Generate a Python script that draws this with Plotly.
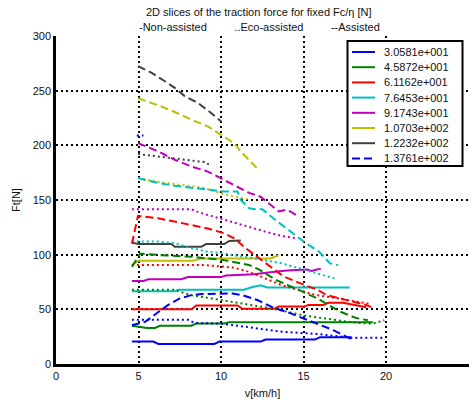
import plotly.graph_objects as go

# Force levels Fc/eta [N] (one colour per level)
force_labels = ["3.0581e+001", "4.5872e+001", "6.1162e+001", "7.6453e+001",
                "9.1743e+001", "1.0703e+002", "1.2232e+002", "1.3761e+002"]
line_colors = ["#0000FF", "#008000", "#FF0000", "#00BFBF",
               "#BF00BF", "#BFBF00", "#404040", "#0000FF"]
legend_dash = ["solid"] * 7 + ["dash"]

# Non-assisted mode: speed v [km/h] and traction force Ft [N]
non_assisted_v = [
    [4.6, 5.9, 6.2, 9.6, 9.9, 12.4, 12.7, 15.7, 16.0, 17.9],
    [4.6, 5.1, 5.5, 6.0, 6.3, 8.2, 8.5, 10.2, 10.5, 19.2],
    [4.6, 8.2, 8.5, 11.0, 11.3, 13.2, 13.5, 15.0, 15.3, 16.2, 16.5, 17.4, 18.8],
    [4.6, 7.2, 7.4, 11.4, 11.8, 12.4, 12.8, 17.8],
    [4.6, 5.3, 5.6, 7.6, 8.0, 10.0, 10.3, 12.0, 13.0, 14.0, 15.2, 15.5, 15.8, 16.05],
    [4.6, 5.0, 8.3, 8.8, 13.0, 13.5],
    [4.6, 5.0, 7.0, 7.2, 8.8, 9.1, 10.2, 10.5, 11.2],
    [],
]
non_assisted_ft = [
    [20.5, 20.5, 18.3, 18.3, 20.5, 20.5, 22.3, 22.3, 24.5, 24.5],
    [35, 34, 33, 33, 35, 35, 37, 37, 38.3, 38.3],
    [50, 50, 53.5, 53.5, 50.5, 50.5, 52.5, 52.5, 54, 54, 56, 56, 52],
    [66.5, 66.5, 68, 68, 70, 72, 70, 70],
    [76, 76, 77.5, 77.5, 79.5, 79.5, 81, 82, 84, 85.5, 86.5, 85, 86.5, 87],
    [90.5, 94.5, 94.5, 96.5, 96.5, 99.5],
    [111, 109.7, 109.7, 107.2, 107.2, 109.7, 109.7, 112.5, 113],
    [],
]

# Eco-assisted mode
eco_v = [
    [4.6, 8.0, 8.4, 10.0, 11.5, 12.7, 13.7, 15.8, 17.9, 19.7, 19.9],
    [4.6, 7.1, 8.2, 10.2, 11.6, 13.2, 15.0, 16.3, 17.5, 18.4, 19.2, 19.9],
    [4.6, 9.0, 9.7, 10.7, 11.7, 12.7, 13.7, 14.75, 15.75, 16.8, 17.8, 18.8, 19.0],
    [4.6, 5.0, 6.2, 7.2, 8.2, 9.2, 10.2, 10.7, 11.7, 12.7, 13.7, 14.75, 15.75, 16.95],
    [4.6, 8.2, 8.7, 9.7, 10.7, 11.7, 12.7, 13.7, 14.55],
    [4.97, 6.0, 7.0, 8.0, 9.0, 9.6, 10.2, 11.0, 11.7],
    [4.97, 6.2, 7.2, 8.2, 9.0, 9.3],
    [4.9, 5.3],
]
eco_ft = [
    [40.5, 40.5, 37.5, 37, 34, 31.5, 29.5, 27.5, 24, 24, 22.5],
    [68, 68, 63, 58, 54, 50.5, 44.5, 41.5, 39, 37.5, 37, 40],
    [90.5, 90.5, 89.5, 88.3, 84.3, 78, 72, 67.5, 63, 60.8, 58.3, 56, 55],
    [113, 112, 112, 110.5, 106, 102.7, 101.2, 99.6, 97.5, 95, 92, 87.5, 83, 78],
    [141.5, 141.5, 138.5, 134, 129.5, 125.6, 121, 117, 115],
    [170, 167, 165, 163, 161, 158, 155, 152.5, 150.5],
    [192, 189.7, 188.3, 186, 184.7, 182.2],
    [209, 209],
]

# Assisted mode
assisted_v = [
    [4.6, 5.4, 6.2, 6.8, 7.5, 8.2, 8.8, 10.7, 11.3, 12.2, 13.1, 14.1, 15.2, 16.0, 16.8, 17.6, 18.0],
    [4.6, 5.1, 6.4, 8.2, 10.2, 11.7, 12.3, 13.3, 14.75, 15.9, 17.2, 18.2, 18.9],
    [4.6, 4.97, 6.2, 7.2, 8.2, 9.2, 10.2, 10.8, 11.4, 12.2, 13.0, 13.8, 14.85, 15.9, 16.4, 17.2, 18.0, 18.8, 19.1],
    [4.97, 6.2, 7.2, 8.2, 9.2, 10.2, 11.0, 11.2, 11.7, 12.1, 12.5, 13.3, 14.35, 15.15, 15.95, 16.6, 17.1],
    [4.97, 6.2, 7.2, 8.2, 9.2, 10.2, 11.2, 11.7, 12.4, 12.9, 13.5, 13.9, 14.2, 14.75],
    [4.97, 6.2, 7.2, 8.2, 9.2, 10.2, 10.8, 11.2, 11.6, 12.25],
    [4.97, 5.8, 6.6, 7.2, 7.8, 8.6, 9.4, 10.0],
    [],
]
assisted_ft = [
    [35.5, 38.5, 47.5, 54, 60, 63, 64, 64.5, 63, 58.5, 52, 47, 40.5, 35.5, 31, 25, 22],
    [89, 101, 99.5, 98, 95, 90.5, 86.5, 77, 67.5, 59.5, 48, 42, 40],
    [110, 135.5, 133.3, 130.2, 127, 124, 119.5, 115, 107, 98, 89, 80, 73.5, 67.5, 63, 60, 57, 54, 52],
    [170, 165.5, 163, 161.5, 159.5, 157.7, 157.7, 150, 142.5, 141.6, 141.6, 131.7, 119.5, 110.4, 102.7, 92, 90.5],
    [202, 194.4, 186.8, 180.6, 176, 168.4, 160.8, 156.5, 153, 147, 139.5, 141, 139.5, 134.5],
    [243, 236.6, 230.5, 223.5, 217.3, 208.2, 202, 194.4, 188.3, 178],
    [272.5, 266.3, 258.6, 252.6, 245, 238.8, 229.6, 222],
    [],
]

x_ticks = [0, 5, 10, 15, 20, 25]
y_ticks = [0, 50, 100, 150, 200, 250, 300]

DASHES = {"solid": "solid", "dot": "2px,3px", "dash": "8px,4px"}
FONT = "Liberation Sans, Arial, sans-serif"

W, H = 469, 399
ML, MR, MT, MB = 56, 0, 36, 35
PW, PH = W - ML - MR, H - MT - MB


def px_x(px):
    return (px - ML) / PW


def px_y(py):
    return (H - MB - py) / PH


fig = go.Figure()

modes = [
    (non_assisted_v, non_assisted_ft, "solid"),
    (eco_v, eco_ft, "dot"),
    (assisted_v, assisted_ft, "dash"),
]
for vs, fts, style in modes:
    for i, (v, ft) in enumerate(zip(vs, fts)):
        if not v:
            continue
        fig.add_trace(go.Scatter(
            x=v, y=ft, mode="lines", showlegend=False, hoverinfo="skip",
            line=dict(color=line_colors[i], width=2, dash=DASHES[style]),
        ))

axis_common = dict(
    showgrid=True, gridcolor="black", griddash="2px,3px", gridwidth=2,
    showline=True, linecolor="black", linewidth=2.5, zeroline=False,
    ticks="", tickfont=dict(family=FONT, size=11, color="#111111"),
)
fig.update_xaxes(range=[0, 25.03], tickvals=x_ticks, **axis_common,
                 title=dict(text="v[km/h]", font=dict(family=FONT, size=11, color="#111111"),
                            standoff=12))
fig.update_yaxes(range=[0, 300], tickvals=y_ticks, **axis_common,
                 title=dict(text="Ft[N]", font=dict(family=FONT, size=11, color="#111111"),
                            standoff=10))

shapes = []
annotations = []

# Legend box with line samples
box_l, box_r, box_t, box_b = 347.5, 462.5, 41, 166
shapes.append(dict(type="rect", xref="paper", yref="paper",
                   x0=px_x(box_l), x1=px_x(box_r), y0=px_y(box_b), y1=px_y(box_t),
                   line=dict(color="black", width=2), fillcolor="white", layer="above"))
for i, label in enumerate(force_labels):
    cy = 52 + i * 15.2
    shapes.append(dict(type="line", xref="paper", yref="paper",
                       x0=px_x(352), x1=px_x(375), y0=px_y(cy), y1=px_y(cy),
                       line=dict(color=line_colors[i], width=2, dash=DASHES[legend_dash[i]]),
                       layer="above"))
    annotations.append(dict(text=label, xref="paper", yref="paper",
                            x=px_x(382), y=px_y(cy), xanchor="left", yanchor="middle",
                            showarrow=False, font=dict(family=FONT, size=11, color="#111111")))

# Two-line title
nb = "\u00a0" * 9
annotations.append(dict(text="2D slices of the traction force for fixed Fc/\u03b7 [N]",
                        xref="paper", yref="paper", x=px_x(259), y=px_y(12),
                        xanchor="center", yanchor="middle", showarrow=False,
                        font=dict(family=FONT, size=11, color="#111111")))
annotations.append(dict(text="-Non-assisted" + nb + "..Eco-assisted" + nb + "--Assisted",
                        xref="paper", yref="paper", x=px_x(259), y=px_y(27),
                        xanchor="center", yanchor="middle", showarrow=False,
                        font=dict(family=FONT, size=11, color="#111111")))

fig.update_layout(
    width=W, height=H,
    margin=dict(l=ML, r=MR, t=MT, b=MB, autoexpand=False),
    paper_bgcolor="white", plot_bgcolor="white",
    showlegend=False,
    shapes=shapes, annotations=annotations,
)

fig.write_html("out.html")
